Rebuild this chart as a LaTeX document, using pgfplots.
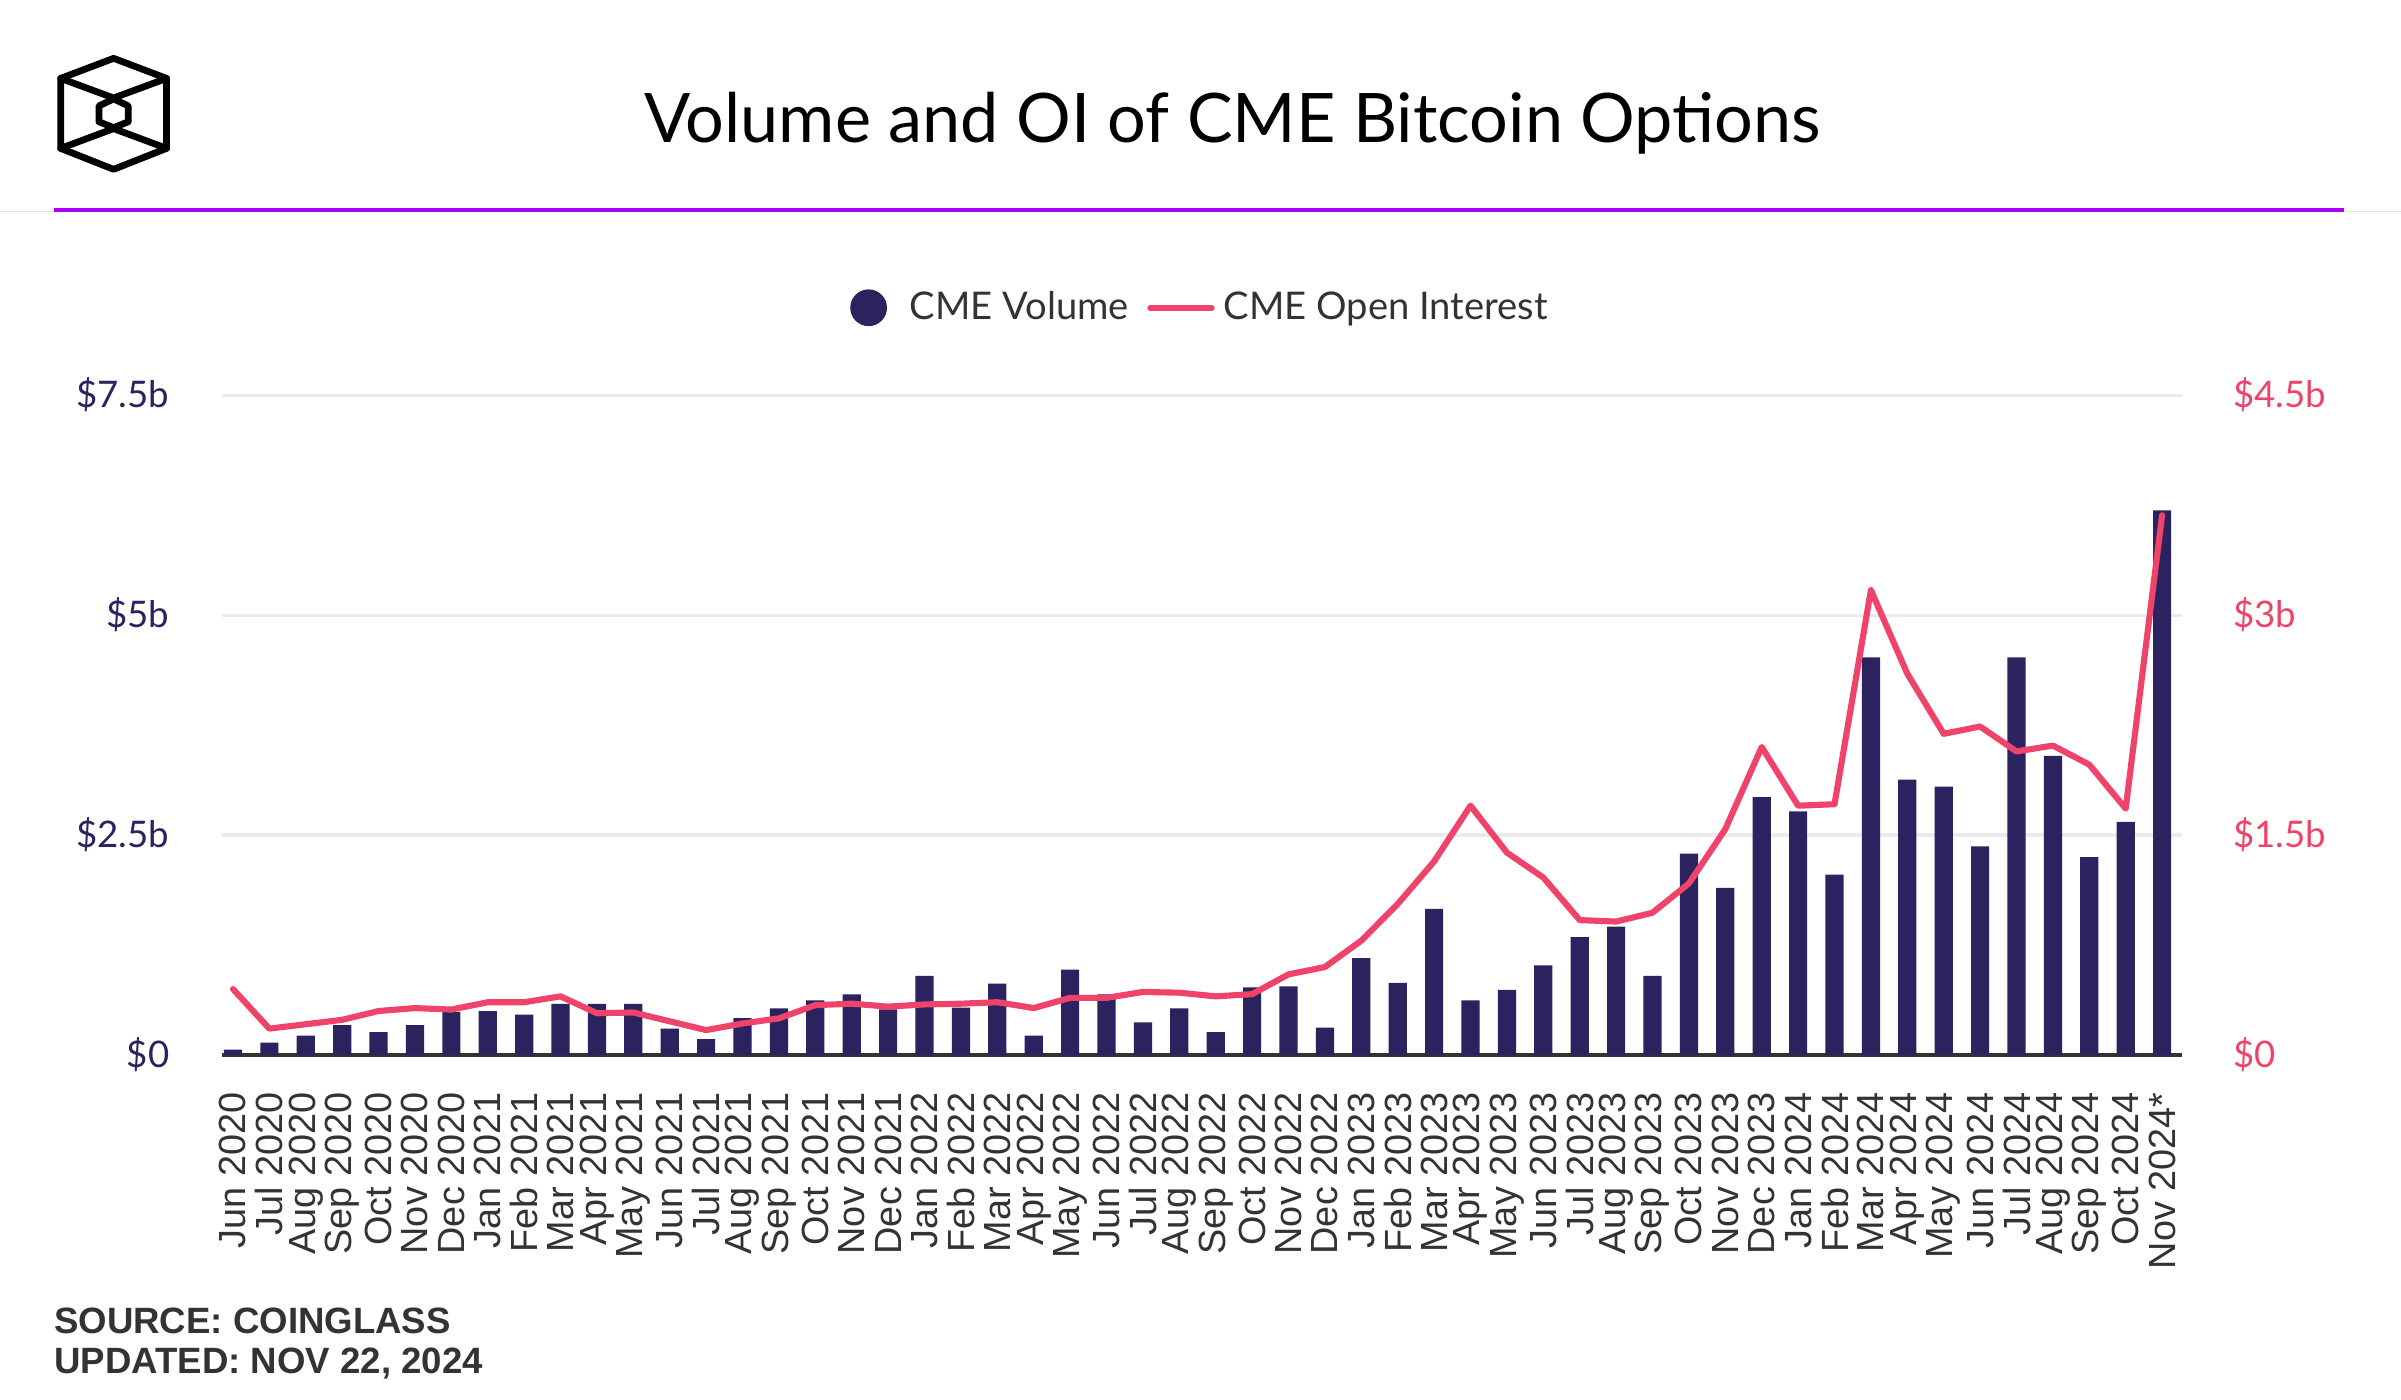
\documentclass[border=0pt]{standalone}
\usepackage{pgfplots}
\pgfplotsset{compat=1.18}
\usepackage{pgfplotstable}
\usepackage{fontspec}
\setmainfont{Lato}
\newfontfamily\arialfont{Liberation Sans}
\definecolor{navy}{RGB}{43,35,96}
\definecolor{oired}{RGB}{240,67,106}
\definecolor{hpurple}{RGB}{170,0,255}
\definecolor{txtgray}{RGB}{51,51,51}
\definecolor{gridgray}{RGB}{235,235,235}

\pgfplotstableread{
x vol oi
0 0.06 0.45
1 0.14 0.18
2 0.22 0.21
3 0.34 0.24
4 0.26 0.30
5 0.34 0.32
6 0.49 0.31
7 0.50 0.36
8 0.46 0.36
9 0.58 0.40
10 0.58 0.285
11 0.58 0.29
12 0.30 0.23
13 0.18 0.17
14 0.42 0.215
15 0.53 0.25
16 0.62 0.34
17 0.69 0.35
18 0.52 0.33
19 0.90 0.345
20 0.54 0.35
21 0.81 0.36
22 0.22 0.32
23 0.97 0.39
24 0.69 0.39
25 0.37 0.43
26 0.53 0.425
27 0.26 0.40
28 0.77 0.415
29 0.78 0.55
30 0.31 0.60
31 1.10 0.78
32 0.82 1.03
33 1.66 1.32
34 0.62 1.70
35 0.74 1.38
36 1.02 1.21
37 1.34 0.92
38 1.46 0.91
39 0.90 0.97
40 2.29 1.17
41 1.90 1.54
42 2.93 2.10
43 2.77 1.70
44 2.05 1.71
45 4.52 3.17
46 3.13 2.60
47 3.05 2.19
48 2.37 2.24
49 4.52 2.07
50 3.40 2.11
51 2.25 1.98
52 2.65 1.68
53 6.19 3.68
}\datatable

\begin{document}
\begin{tikzpicture}[x=0.5bp,y=0.5bp]
\path[use as bounding box] (0,0) rectangle (1568,914);
% logo
\begin{scope}[line width=2.2bp, line join=round, line cap=round]
\draw (74.2,875.9) -- (108.8,862.8) -- (108.8,817.1) -- (74.2,803.4) -- (39.6,817.1) -- (39.6,862.8) -- cycle;
\draw (39.6,862.8) -- (74.2,850) -- (108.8,862.8);
\draw (39.6,817.1) -- (74.2,830) -- (108.8,817.1);
\draw (74.2,849.4) -- (83.8,844.8) -- (83.8,834.5) -- (74.2,830.6) -- (64.6,834.5) -- (64.6,844.8) -- cycle;
\end{scope}
% title
\node[anchor=base, font=\fontsize{22.4}{27}\selectfont, inner sep=0pt] at (805,821) {Volume and OI of CME Bitcoin Options};
% header lines
\draw[color=gray!25, line width=0.5bp] (0,776) -- (1568,776);
\draw[color=hpurple, line width=1.2bp] (35,777) -- (1531,777);
% source
\node[anchor=base west, inner sep=0pt, text=txtgray, font=\arialfont\bfseries\fontsize{12}{14}\selectfont] at (35,43) {SOURCE: COINGLASS};
\node[anchor=base west, inner sep=0pt, text=txtgray, font=\arialfont\bfseries\fontsize{12}{14}\selectfont] at (35,17) {UPDATED: NOV 22, 2024};

\begin{axis}[
  at={(72.5bp,112.5bp)}, anchor=south west,
  scale only axis, width=640bp, height=215.5bp,
  xmin=-0.3, xmax=53.55, ymin=0, ymax=7.5,
  axis x line*=bottom, axis y line*=left,
  y axis line style={draw=none},
  x axis line style={draw=txtgray, line width=1.3bp, -},
  major tick length=0pt,
  ytick={0,2.5,5,7.5},
  yticklabels={\$0,\$2.5b,\$5b,\$7.5b},
  yticklabel style={anchor=east, inner sep=0pt, xshift=-17bp, text=navy, font=\fontsize{12}{14}\selectfont},
  ymajorgrids, grid style={draw=gridgray, line width=1bp},
  xtick={0,...,53},
  xticklabels={Jun 2020,Jul 2020,Aug 2020,Sep 2020,Oct 2020,Nov 2020,Dec 2020,Jan 2021,Feb 2021,Mar 2021,Apr 2021,May 2021,Jun 2021,Jul 2021,Aug 2021,Sep 2021,Oct 2021,Nov 2021,Dec 2021,Jan 2022,Feb 2022,Mar 2022,Apr 2022,May 2022,Jun 2022,Jul 2022,Aug 2022,Sep 2022,Oct 2022,Nov 2022,Dec 2022,Jan 2023,Feb 2023,Mar 2023,Apr 2023,May 2023,Jun 2023,Jul 2023,Aug 2023,Sep 2023,Oct 2023,Nov 2023,Dec 2023,Jan 2024,Feb 2024,Mar 2024,Apr 2024,May 2024,Jun 2024,Jul 2024,Aug 2024,Sep 2024,Oct 2024,Nov 2024*},
  xticklabel shift=12bp,
  xticklabel style={rotate=90, anchor=east, inner sep=0pt, text=txtgray, font=\arialfont\fontsize{12.4}{14}\selectfont},
]
\addplot[ybar, bar width=0.5, fill=navy, draw=none] table[x=x, y=vol] {\datatable};
\end{axis}

\begin{axis}[
  at={(72.5bp,112.5bp)}, anchor=south west,
  scale only axis, width=640bp, height=215.5bp,
  xmin=-0.3, xmax=53.55, ymin=0, ymax=4.5,
  axis x line=none, axis y line*=right,
  y axis line style={draw=none},
  major tick length=0pt,
  ytick={0,1.5,3,4.5},
  yticklabels={\$0,\$1.5b,\$3b,\$4.5b},
  yticklabel style={anchor=west, inner sep=0pt, xshift=16.5bp, text=oired, font=\fontsize{12}{14}\selectfont},
  xtick=\empty,
  legend columns=2,
  legend style={draw=none, fill=none, at={(0.5,1)}, anchor=center, yshift=28.5bp, font=\fontsize{12.5}{15}\selectfont, text=txtgray, /tikz/every even column/.append style={column sep=4bp}},
]
\addlegendimage{legend image code/.code={\fill[navy, draw=none] (6bp,0bp) circle (6bp); \path[draw=none, fill=none] (0bp,0bp) -- (17.5bp,0bp);}}
\addlegendentry{CME Volume}
\addplot[color=oired, line width=2bp, line join=round, line cap=round, mark=none,
  legend image code/.code={\draw[oired, line width=2bp, line cap=round] (0bp,0bp) -- (20bp,0bp); \path[draw=none, fill=none] (0bp,0bp) -- (22bp,0bp);}]
  table[x=x, y=oi] {\datatable};
\addlegendentry{CME Open Interest}
\end{axis}
\end{tikzpicture}
\end{document}
